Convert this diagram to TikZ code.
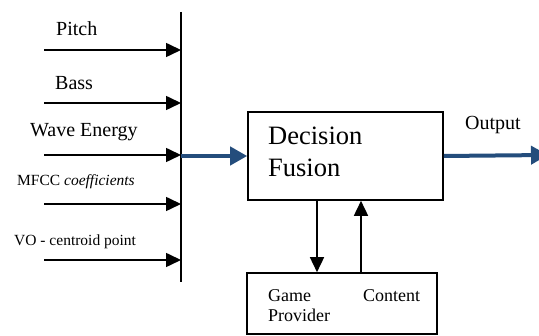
\documentclass[tikz,border=0pt]{standalone}
\usepackage{fontspec}
\setmainfont{Liberation Serif}
\usepackage{tikz}
\usetikzlibrary{arrows.meta}
\definecolor{flowblue}{RGB}{36,77,124}

\begin{document}
\begin{tikzpicture}[x=1pt,y=-1pt,%
% common options for the labels:
lbl/.style = {inner sep=0, anchor=base west, font=\fontsize{20}{22}\selectfont},
small/.style = {inner sep=0, anchor=base west, font=\fontsize{15.5}{17}\selectfont},
% common options for blocks:
block/.style = {draw, line width=1.6pt, inner sep=0},
% common options for the arrows:
thin/.style = {line width=1.6pt, -{Triangle[length=15pt,width=14pt]}},
thick/.style = {line width=4pt, draw=flowblue, -{Triangle[length=17pt,width=18pt]}}]
\useasboundingbox (0,0) rectangle (539,336);
% input labels
\node[lbl] (lPitch) at (56,36) {Pitch};
\node[lbl] (lBass) at (55,90) {Bass};
\node[lbl] (lWave) at (30,137) {Wave Energy};
\node[small] (lMfcc) at (17,186) {MFCC \textit{coefficients}};
\node[small] (lVo) at (14,246) {VO - centroid point};
% collecting bar
\coordinate (barTop) at (181,12);
\coordinate (barBot) at (181,282);
\draw[line width=1.6pt] (barTop) -- (barBot);
\coordinate (s1) at (44,50);
\coordinate (s2) at (44,103);
\coordinate (s3) at (44,155);
\coordinate (s4) at (44,204);
\coordinate (s5) at (44,260);
\draw[thin] (s1) -- (s1 -| barTop);
\draw[thin] (s2) -- (s2 -| barTop);
\draw[thin] (s3) -- (s3 -| barTop);
\draw[thin] (s4) -- (s4 -| barTop);
\draw[thin] (s5) -- (s5 -| barTop);
% blocks
\node[block, minimum width=195, minimum height=88] (fusion) at (345.5,156) {};
\node[inner sep=0, anchor=base west, font=\fontsize{26.5}{30}\selectfont] (tDec) at (268,145) {Decision};
\node[inner sep=0, anchor=base west, font=\fontsize{26.5}{30}\selectfont] (tFus) at (268,177) {Fusion};
\node[block, minimum width=190, minimum height=61] (game) at (342,303.5) {};
\node[inner sep=0, anchor=base west, font=\fontsize{18}{20}\selectfont] (tGame) at (268,302) {Game};
\node[inner sep=0, anchor=base west, font=\fontsize{18}{20}\selectfont] (tCont) at (363,302) {Content};
\node[inner sep=0, anchor=base west, font=\fontsize{18}{20}\selectfont] (tProv) at (268,322) {Provider};
\node[lbl] (lOut) at (465,130) {Output};
% flow
\coordinate (dn) at (317,0);
\coordinate (up) at (361,0);
\coordinate (outEnd) at (548,155);
\draw[thick] (fusion.west -| barTop) -- (fusion.west);
\draw[thick] (fusion.east) -- (outEnd);
\draw[thin] (fusion.south -| dn) -- (game.north -| dn);
\draw[thin] (game.north -| up) -- (fusion.south -| up);
\end{tikzpicture}
\end{document}
